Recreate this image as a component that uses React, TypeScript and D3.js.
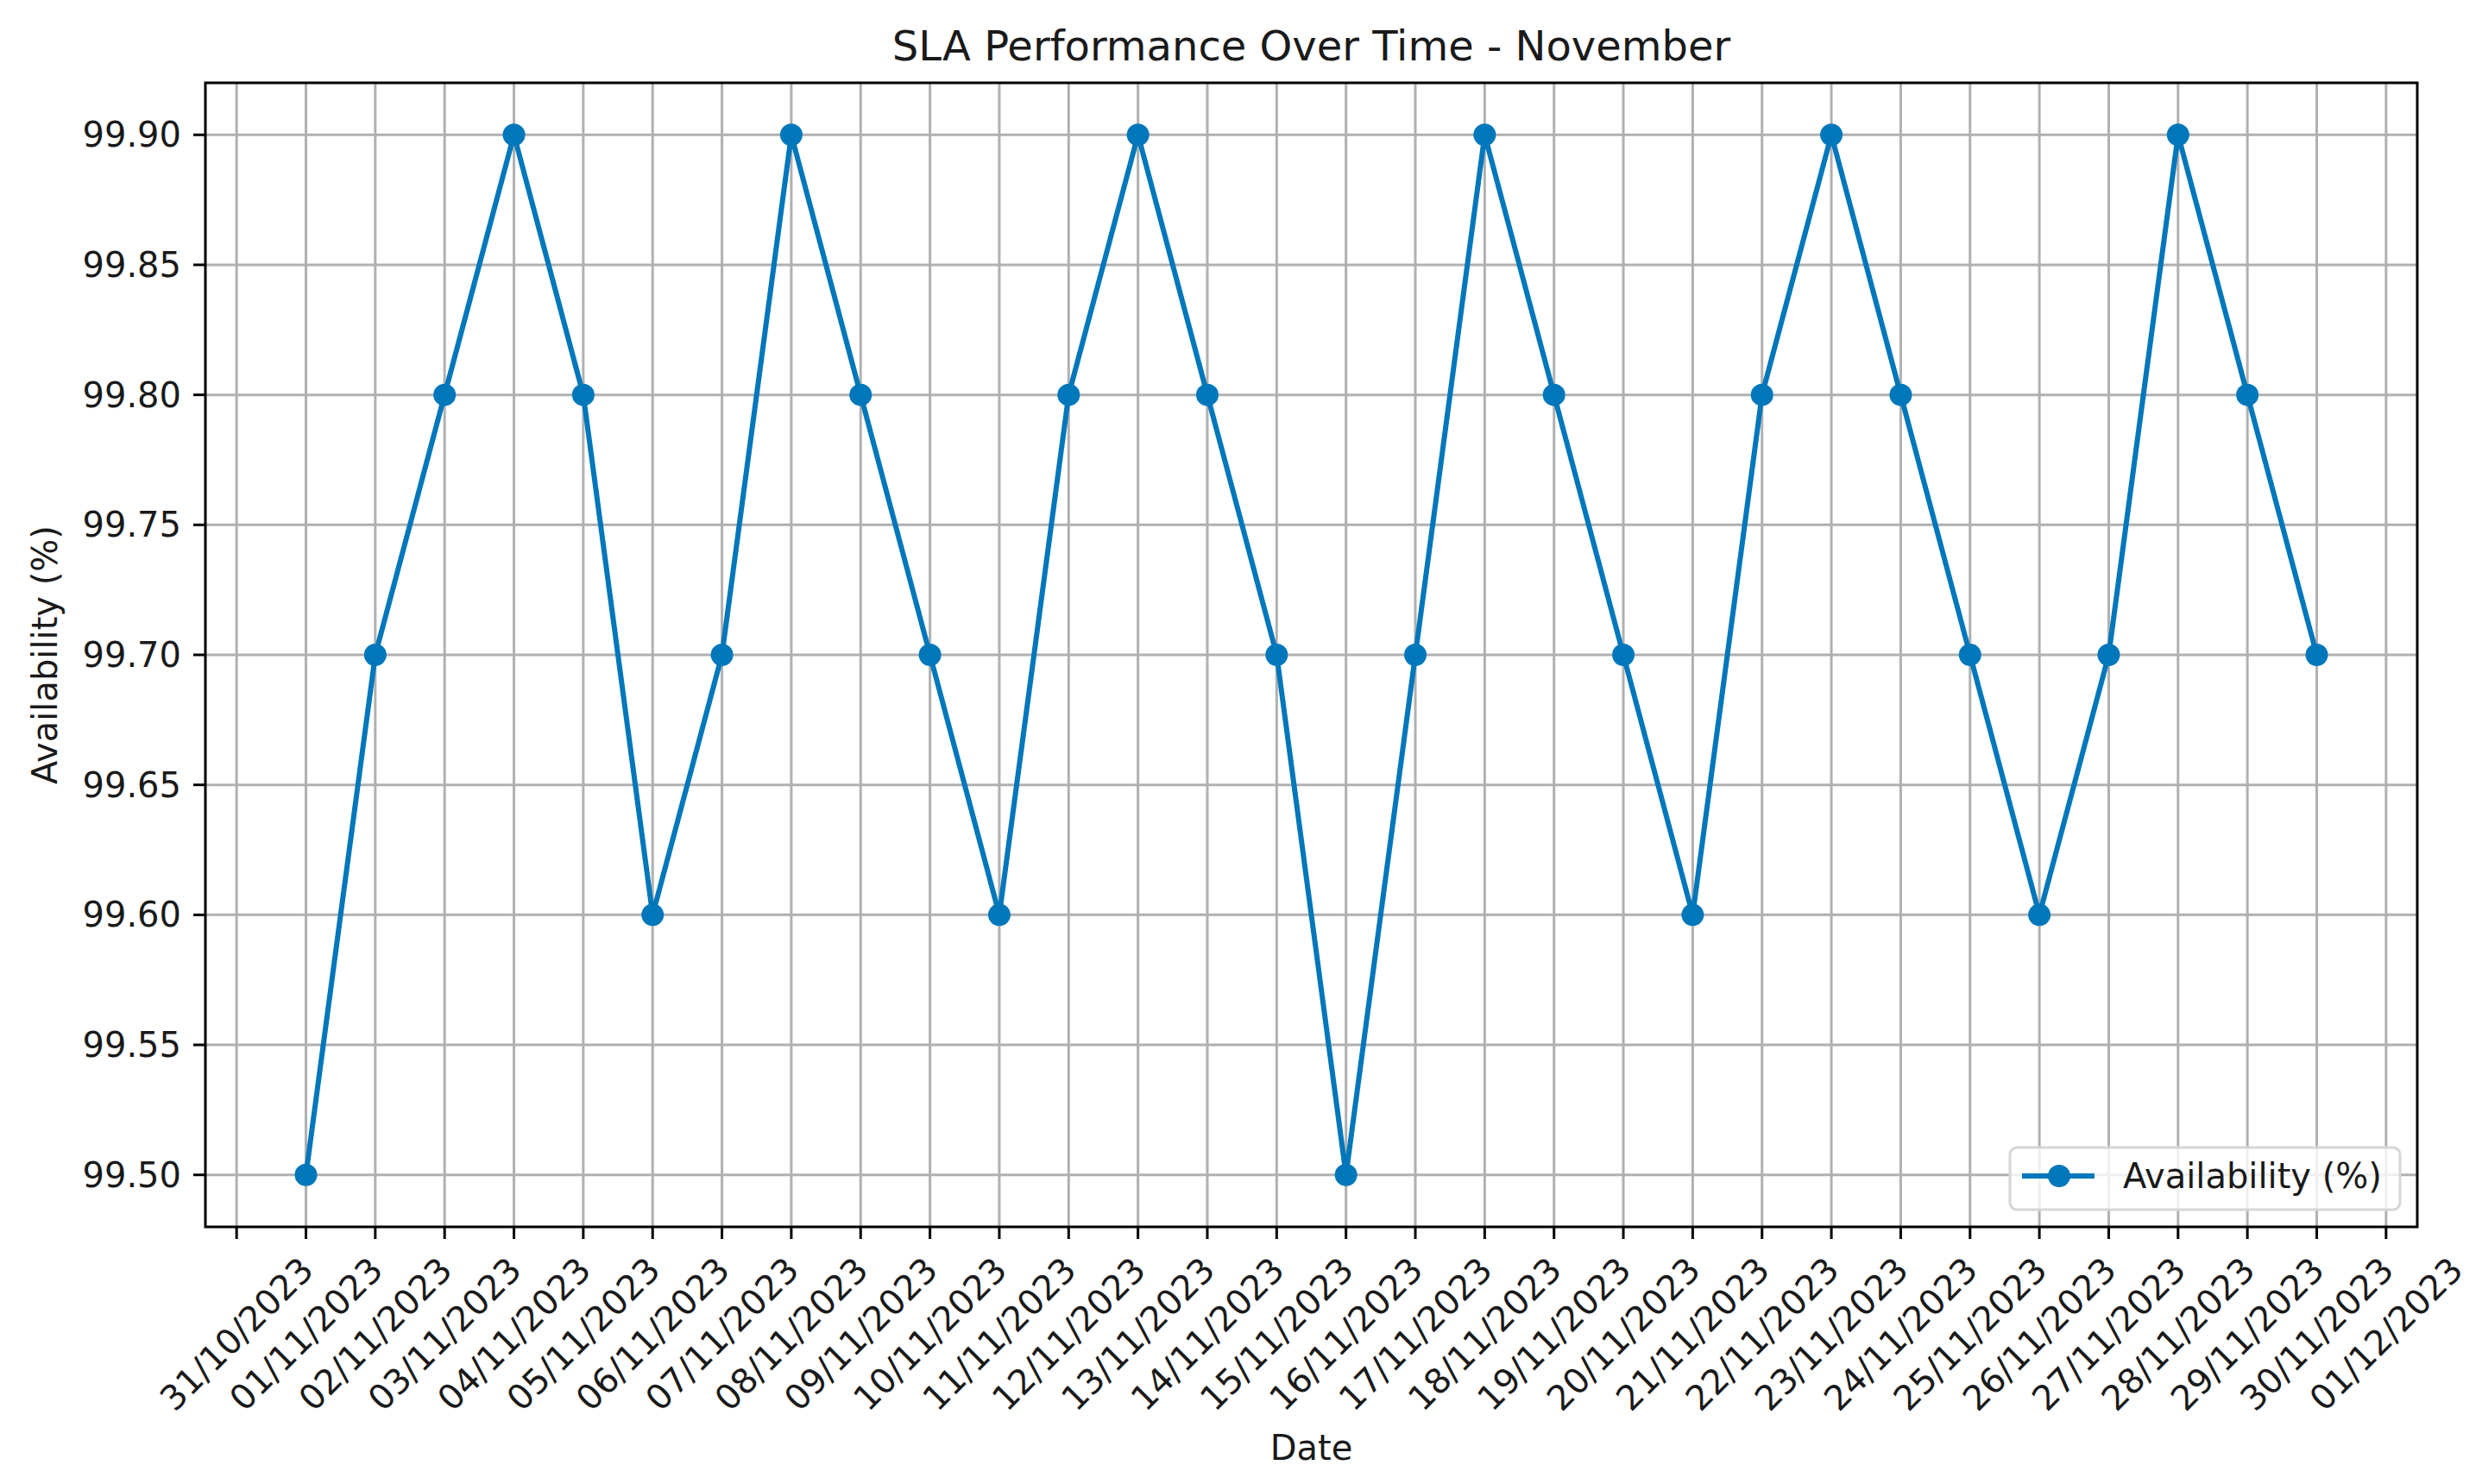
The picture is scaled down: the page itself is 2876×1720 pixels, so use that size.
import React from "react";
import * as d3 from "d3";

const dates: string[] = [
  "2023-11-01","2023-11-02","2023-11-03","2023-11-04","2023-11-05","2023-11-06","2023-11-07","2023-11-08","2023-11-09","2023-11-10",
  "2023-11-11","2023-11-12","2023-11-13","2023-11-14","2023-11-15","2023-11-16","2023-11-17","2023-11-18","2023-11-19","2023-11-20",
  "2023-11-21","2023-11-22","2023-11-23","2023-11-24","2023-11-25","2023-11-26","2023-11-27","2023-11-28","2023-11-29","2023-11-30",
];
const availability: number[] = [
  99.5, 99.7, 99.8, 99.9, 99.8, 99.6, 99.7, 99.9, 99.8, 99.7,
  99.6, 99.8, 99.9, 99.8, 99.7, 99.5, 99.7, 99.9, 99.8, 99.7,
  99.6, 99.8, 99.9, 99.8, 99.7, 99.6, 99.7, 99.9, 99.8, 99.7,
];
const yTicks: number[] = [99.5, 99.55, 99.6, 99.65, 99.7, 99.75, 99.8, 99.85, 99.9];
const xTickStart = "2023-10-31";
const xTickEnd = "2023-12-01";
const title = "SLA Performance Over Time - November";
const xLabel = "Date";
const yLabel = "Availability (%)";
const seriesName = "Availability (%)";

const W = 2876, H = 1720;
const L = 238, R = 2801, T = 96, B = 1422;
const COLOR = "#0077bb";
const FONT = "'DejaVu Sans', sans-serif";
const DAY = 86400000;

export default function App() {
  const parse = (s: string) => new Date(s + "T00:00:00Z");
  const data = dates.map((d, i) => ({ date: parse(d), v: availability[i] }));
  const t0 = data[0].date.getTime(), t1 = data[data.length - 1].date.getTime();
  const span = t1 - t0;
  const x = d3.scaleUtc().domain([new Date(t0 - span * 0.05), new Date(t1 + span * 0.05)]).range([L, R]);
  const yMin = d3.min(availability)!, yMax = d3.max(availability)!;
  const m = (yMax - yMin) * 0.05;
  const y = d3.scaleLinear().domain([yMin - m, yMax + m]).range([B, T]);
  const xTicks = d3.utcDay.range(parse(xTickStart), new Date(parse(xTickEnd).getTime() + 1));
  const fmt = d3.utcFormat("%d/%m/%Y");
  const line = d3.line<{ date: Date; v: number }>().x(d => x(d.date)).y(d => y(d.v));

  const legX = 2329, legY = 1330, legW = 452, legH = 72;

  return (
    <svg width={W} height={H} style={{ position: "absolute", left: 0, top: 0, background: "#fff" }} fontFamily={FONT}>
      <rect x={0} y={0} width={W} height={H} fill="#fff" />
      {/* grid */}
      {xTicks.map((t, i) => (
        <line key={"gx" + i} x1={x(t)} x2={x(t)} y1={T} y2={B} stroke="#b0b0b0" strokeWidth={3} />
      ))}
      {yTicks.map((t, i) => (
        <line key={"gy" + i} x1={L} x2={R} y1={y(t)} y2={y(t)} stroke="#b0b0b0" strokeWidth={3} />
      ))}
      {/* series */}
      <path d={line(data) || ""} fill="none" stroke={COLOR} strokeWidth={6} strokeLinejoin="round" />
      {data.map((d, i) => (
        <circle key={"p" + i} cx={x(d.date)} cy={y(d.v)} r={13} fill={COLOR} />
      ))}
      {/* spines */}
      <rect x={L} y={T} width={R - L} height={B - T} fill="none" stroke="#000" strokeWidth={3} />
      {/* y ticks */}
      {yTicks.map((t, i) => (
        <g key={"yt" + i}>
          <line x1={L - 14} x2={L} y1={y(t)} y2={y(t)} stroke="#000" strokeWidth={3} />
          <text x={L - 28} y={y(t)} textAnchor="end" dominantBaseline="central" fontSize={40} fill="#1a1a1a">
            {t.toFixed(2)}
          </text>
        </g>
      ))}
      {/* x ticks */}
      {xTicks.map((t, i) => (
        <g key={"xt" + i}>
          <line x1={x(t)} x2={x(t)} y1={B} y2={B + 14} stroke="#000" strokeWidth={3} />
          <text transform={`translate(${x(t)},${1546}) rotate(-45)`} textAnchor="middle" dominantBaseline="central" fontSize={40} fill="#1a1a1a">
            {fmt(t)}
          </text>
        </g>
      ))}
      {/* labels */}
      <text x={(L + R) / 2} y={70} textAnchor="middle" fontSize={48} fill="#1a1a1a">{title}</text>
      <text x={(L + R) / 2} y={1692} textAnchor="middle" fontSize={40} fill="#1a1a1a">{xLabel}</text>
      <text transform={`translate(${66},${(T + B) / 2}) rotate(-90)`} textAnchor="middle" fontSize={40} fill="#1a1a1a">{yLabel}</text>
      {/* legend */}
      <rect x={legX} y={legY} width={legW} height={legH} rx={8} fill="#fff" fillOpacity={0.8} stroke="#d6d6d6" strokeWidth={3} />
      <line x1={legX + 14} x2={legX + 98} y1={legY + 33} y2={legY + 33} stroke={COLOR} strokeWidth={6} />
      <circle cx={legX + 57} cy={legY + 33} r={13} fill={COLOR} />
      <text x={legX + 131} y={legY + 33} dominantBaseline="central" fontSize={40} fill="#1a1a1a">{seriesName}</text>
    </svg>
  );
}
